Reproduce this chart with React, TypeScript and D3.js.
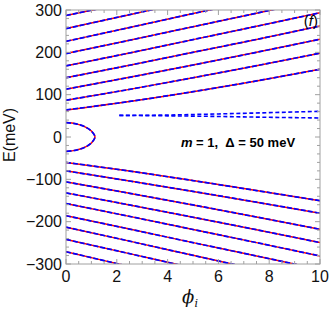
import React, { useRef, useEffect } from "react";
import * as d3 from "d3";

// phi values where every band is sampled
const phiGrid = [0, 2.5, 5, 7.5, 10];

// E (meV) of each positive band at phiGrid
const upperBands = [
  [287, 318, 349, 380, 411],
  [256, 289, 322, 355, 388],
  [226, 258.5, 291.5, 324, 357],
  [197, 228.5, 260.5, 292.5, 325],
  [168, 198.5, 230, 261.5, 293.5],
  [140, 169.5, 200, 230.5, 262],
  [113, 141, 170, 200, 231],
  [87, 112.5, 140, 168.5, 198],
  [64, 84, 107, 132.5, 160],
];

// E (meV) of each negative band at phiGrid
const lowerBands = [
  [-60, -80.5, -103, -126.5, -150.5],
  [-80, -104, -128.5, -154, -180],
  [-106, -133, -160.5, -189, -218],
  [-132, -160.5, -189.5, -219, -249.5],
  [-157, -187.5, -218.5, -249.5, -281],
  [-186, -217.5, -249.5, -281, -313],
  [-213, -246, -279.5, -313, -346],
  [-242, -275.5, -309.5, -343, -377],
  [-271, -306, -341, -376, -411],
];

// in-gap bound state (symmetric in E)
const boundPhi = [0, 0.4, 0.75, 1.0, 1.14];
const boundE = [34, 31, 24, 14, 0];

// blue-only dashed pair
const dashPhi = [2.1, 4, 6, 8, 10];
const dashUpperE = [51, 52, 54.5, 57.5, 60.7];
const dashLowerE = [51, 50, 48.5, 46.5, 45];

const xTicks = [0, 2, 4, 6, 8, 10];
const yTicks = [-300, -200, -100, 0, 100, 200, 300];

export default function App() {
  const ref = useRef<SVGSVGElement>(null);

  useEffect(() => {
    const width = 330, height = 312;
    const left = 66, right = 320, top = 10, bottom = 264;
    const svg = d3.select(ref.current);
    svg.selectAll("*").remove();

    const x = d3.scaleLinear().domain([0, 10]).range([left, right]);
    const y = d3.scaleLinear().domain([-300, 300]).range([bottom, top]);

    svg.append("defs").append("clipPath").attr("id", "plotClip")
      .append("rect").attr("x", left).attr("y", top)
      .attr("width", right - left).attr("height", bottom - top);

    const line = d3.line<[number, number]>()
      .x(d => x(d[0])).y(d => y(d[1]))
      .curve(d3.curveMonotoneX);
    const loop = d3.line<[number, number]>()
      .x(d => x(d[0])).y(d => y(d[1]))
      .curve(d3.curveCatmullRom);

    const g = svg.append("g").attr("clip-path", "url(#plotClip)");

    const bands = upperBands.concat(lowerBands)
      .map(es => phiGrid.map((p, i) => [p, es[i]] as [number, number]));

    const drawPair = (pts: [number, number][], gen: any) => {
      g.append("path").attr("d", gen(pts)).attr("fill", "none")
        .attr("stroke", "#ff0000").attr("stroke-width", 1.5);
      g.append("path").attr("d", gen(pts)).attr("fill", "none")
        .attr("stroke", "#0000ff").attr("stroke-width", 1.7)
        .attr("stroke-dasharray", "5,2");
    };

    bands.forEach(b => drawPair(b, line));

    const boundPts: [number, number][] = boundPhi.map((p, i) => [p, boundE[i]] as [number, number])
      .concat(boundPhi.slice(0, -1).reverse().map((p, i) => {
        const j = boundPhi.length - 2 - i;
        return [boundPhi[j], -boundE[j]] as [number, number];
      }));
    drawPair(boundPts, loop);

    [dashUpperE, dashLowerE].forEach(es => {
      const pts = dashPhi.map((p, i) => [p, es[i]] as [number, number]);
      g.append("path").attr("d", line(pts)).attr("fill", "none")
        .attr("stroke", "#0000ff").attr("stroke-width", 1.6)
        .attr("stroke-dasharray", "4,2.5");
    });

    // frame + ticks
    const frameColor = "#a0a0a0";
    svg.append("rect").attr("x", left).attr("y", top)
      .attr("width", right - left).attr("height", bottom - top)
      .attr("fill", "none").attr("stroke", frameColor).attr("stroke-width", 1);

    const ticks = svg.append("g").attr("stroke", frameColor).attr("stroke-width", 1);
    d3.range(0, 10.001, 0.5).forEach(v => {
      const major = Math.abs(v / 2 - Math.round(v / 2)) < 1e-6;
      const len = major ? 5 : 3;
      ticks.append("line").attr("x1", x(v)).attr("x2", x(v)).attr("y1", bottom).attr("y2", bottom - len);
      ticks.append("line").attr("x1", x(v)).attr("x2", x(v)).attr("y1", top).attr("y2", top + len);
    });
    d3.range(-300, 300.001, 20).forEach(v => {
      const major = v % 100 === 0;
      const len = major ? 5 : 3;
      ticks.append("line").attr("y1", y(v)).attr("y2", y(v)).attr("x1", left).attr("x2", left + len);
      ticks.append("line").attr("y1", y(v)).attr("y2", y(v)).attr("x1", right).attr("x2", right - len);
    });

    const font = "Liberation Sans, Arial, sans-serif";
    svg.append("g").selectAll("text").data(yTicks).enter().append("text")
      .attr("x", left - 4).attr("y", d => y(d)).attr("dy", "0.36em")
      .attr("text-anchor", "end").attr("font-family", font).attr("font-size", 16)
      .attr("fill", "#111")
      .text(d => (d < 0 ? "\u2212" + Math.abs(d) : String(d)));
    svg.append("g").selectAll("text").data(xTicks).enter().append("text")
      .attr("x", d => x(d)).attr("y", bottom + 18)
      .attr("text-anchor", "middle").attr("font-family", font).attr("font-size", 16)
      .attr("fill", "#111")
      .text(d => String(d));

    svg.append("text")
      .attr("transform", `translate(15,${135}) rotate(-90)`)
      .attr("text-anchor", "middle").attr("font-family", font).attr("font-size", 16)
      .attr("fill", "#111").text("E(meV)");

    const xl = svg.append("text").attr("x", 190).attr("y", 303)
      .attr("text-anchor", "middle").attr("fill", "#111");
    xl.append("tspan").attr("font-family", "DejaVu Serif, serif").attr("font-style", "italic")
      .attr("font-size", 18).text("\u03d5");
    xl.append("tspan").attr("font-family", "DejaVu Serif, serif").attr("font-style", "italic")
      .attr("font-size", 11).attr("dy", 4).text("i");

    const note = svg.append("text").attr("x", 238).attr("y", 147)
      .attr("text-anchor", "middle").attr("font-family", font).attr("font-size", 13)
      .attr("font-weight", "bold").attr("fill", "#000").attr("xml:space", "preserve");
    note.append("tspan").attr("font-style", "italic").text("m");
    note.append("tspan").text(" = 1,  \u0394 = 50 meV");

    const tag = svg.append("text").attr("x", 318).attr("y", 26)
      .attr("text-anchor", "end").attr("font-family", font).attr("font-size", 15)
      .attr("fill", "#000");
    tag.append("tspan").text("(");
    tag.append("tspan").attr("font-style", "italic").text("f");
    tag.append("tspan").text(")");

    svg.attr("width", width).attr("height", height);
  }, []);

  return (
    <>
      <style>{`body{margin:0}`}</style>
      <svg ref={ref} width={330} height={312} style={{ display: "block", background: "#fff" }} />
    </>
  );
}
